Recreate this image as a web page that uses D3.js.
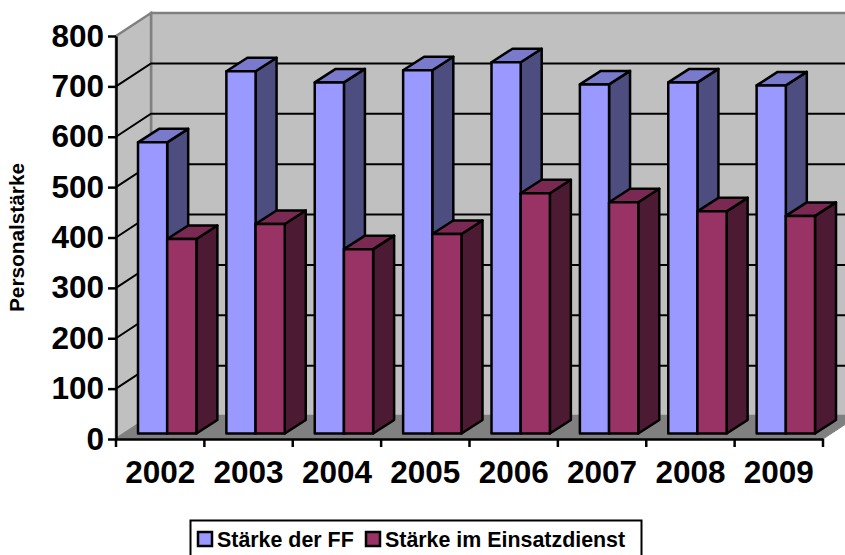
<!DOCTYPE html>
<html>
<head>
  <meta charset="utf-8">
  <style>
    html, body { margin: 0; padding: 0; background: #fff; overflow: hidden; }
    svg { display: block; }
    text { font-family: "Liberation Sans", Arial, sans-serif; font-weight: bold; fill: #000; }
    .wall { fill: #c0c0c0; stroke: #808080; stroke-width: 2.5; }
    .floor { fill: #808080; stroke: #808080; stroke-width: 1; }
    .grid { fill: none; stroke: #000; stroke-width: 2; }
    .axis path, .axis line { stroke: #000; stroke-width: 2.5; }
    .bar path { stroke: #000; stroke-width: 2.5; stroke-linejoin: round; }
  </style>
  <script src="https://d3js.org/d3.v7.min.js"></script>
</head>
<body>
<script>
var years = ["2002", "2003", "2004", "2005", "2006", "2007", "2008", "2009"];
var staerkeFF = [578, 719, 697, 721, 737, 693, 697, 691];
var staerkeEinsatz = [386, 416, 366, 396, 477, 459, 441, 432];
var yTicks = [0, 100, 200, 300, 400, 500, 600, 700, 800];
var seriesNames = ["Stärke der FF", "Stärke im Einsatzdienst"];
var seriesColors = [
  { front: "#9999ff", side: "#4d4d80", top: "#7a7acc" },
  { front: "#993366", side: "#4d1a33", top: "#7a2952" }
];

var width = 845, height = 555;
var x0 = 116, x1 = 823, yBottom = 439, yTop = 36;
// full depth of the 3d box, and the part of it the bars take
var depthX = 35, depthY = 23;
var barOffX = 7, barOffY = 5.5, barDepthX = 21, barDepthY = 13.5;

var xScale = d3.scaleBand().domain(years).range([x0, x1]);
var xSeries = d3.scaleBand().domain([0, 1]).range([15, xScale.bandwidth() - 15]);
var yScale = d3.scaleLinear().domain([0, 800]).range([yBottom, yTop]);

var svg = d3.select("body").append("svg")
  .attr("width", width)
  .attr("height", height);

function poly(pts) {
  return "M" + pts.map(function(p) { return p[0] + "," + p[1]; }).join("L") + "Z";
}

// walls and floor
svg.append("path").attr("class", "wall")
  .attr("d", poly([[x0 + depthX, yTop - depthY], [x1 + depthX, yTop - depthY], [x1 + depthX, yBottom - depthY], [x0 + depthX, yBottom - depthY]]));
svg.append("path").attr("class", "wall")
  .attr("d", poly([[x0, yTop], [x0 + depthX, yTop - depthY], [x0 + depthX, yBottom - depthY], [x0, yBottom]]));
svg.append("path").attr("class", "floor")
  .attr("d", poly([[x0, yBottom], [x0 + depthX, yBottom - depthY], [x1 + depthX, yBottom - depthY], [x1, yBottom]]));

// grid lines, side wall and back wall
svg.selectAll(".grid").data(yTicks.slice(1, -1)).enter().append("path")
  .attr("class", "grid")
  .attr("d", function(d) {
    var y = yScale(d);
    return "M" + x0 + "," + y + "L" + (x0 + depthX) + "," + (y - depthY) + "L" + (x1 + depthX) + "," + (y - depthY);
  });

// bars, one group per year and series
var bars = [];
years.forEach(function(year, i) {
  bars.push({ year: year, s: 0, value: staerkeFF[i] });
  bars.push({ year: year, s: 1, value: staerkeEinsatz[i] });
});

var bar = svg.selectAll(".bar").data(bars).enter().append("g").attr("class", "bar");

function barBox(d) {
  var left = xScale(d.year) + xSeries(d.s) + barOffX;
  return {
    l: left,
    r: left + xSeries.bandwidth(),
    b: yBottom - barOffY,
    t: yScale(d.value) - barOffY
  };
}

bar.append("path")
  .attr("fill", function(d) { return seriesColors[d.s].side; })
  .attr("d", function(d) {
    var b = barBox(d);
    return poly([[b.r, b.t], [b.r + barDepthX, b.t - barDepthY], [b.r + barDepthX, b.b - barDepthY], [b.r, b.b]]);
  });
bar.append("path")
  .attr("fill", function(d) { return seriesColors[d.s].top; })
  .attr("d", function(d) {
    var b = barBox(d);
    return poly([[b.l, b.t], [b.l + barDepthX, b.t - barDepthY], [b.r + barDepthX, b.t - barDepthY], [b.r, b.t]]);
  });
bar.append("path")
  .attr("fill", function(d) { return seriesColors[d.s].front; })
  .attr("d", function(d) {
    var b = barBox(d);
    return poly([[b.l, b.t], [b.r, b.t], [b.r, b.b], [b.l, b.b]]);
  });

// axis-y
var axisY = svg.append("g")
  .attr("class", "axis")
  .attr("transform", "translate(" + x0 + ",0)")
  .call(d3.axisLeft(yScale).tickValues(yTicks).tickSize(8).tickSizeOuter(0).tickPadding(4));
axisY.selectAll("text").style("font-size", "31.5px");

// axis-x
var axisX = svg.append("g")
  .attr("class", "axis")
  .attr("transform", "translate(0," + yBottom + ")")
  .call(d3.axisBottom(xScale).tickSize(0).tickPadding(21.6));
axisX.selectAll(".tick line").remove();
axisX.selectAll("text").style("font-size", "31.5px");
svg.append("g").attr("class", "axis")
  .selectAll("line").data(years.concat("end")).enter().append("line")
  .attr("x1", function(d, i) { return x0 + i * xScale.step(); })
  .attr("x2", function(d, i) { return x0 + i * xScale.step(); })
  .attr("y1", yBottom)
  .attr("y2", yBottom + 8);

svg.append("text")
  .attr("transform", "translate(24,237.5) rotate(-90)")
  .attr("text-anchor", "middle")
  .style("font-size", "20.8px")
  .text("Personalstärke");

// legend, the bottom edge of the box falls outside the picture
var legend = svg.append("g");
legend.append("rect")
  .attr("x", 190.5).attr("y", 520.5).attr("width", 451).attr("height", 44)
  .attr("fill", "#fff").attr("stroke", "#000").attr("stroke-width", 2);
var legendX = [198, 366];
var item = legend.selectAll(".item").data(seriesNames).enter().append("g")
  .attr("class", "item")
  .attr("transform", function(d, i) { return "translate(" + legendX[i] + ",532)"; });
item.append("rect")
  .attr("width", 14).attr("height", 14)
  .attr("fill", function(d, i) { return seriesColors[i].front; })
  .attr("stroke", "#000").attr("stroke-width", 2.5);
item.append("text")
  .attr("x", 19).attr("y", 14.5)
  .style("font-size", "21.4px")
  .text(function(d) { return d; });
</script>
</body>
</html>
